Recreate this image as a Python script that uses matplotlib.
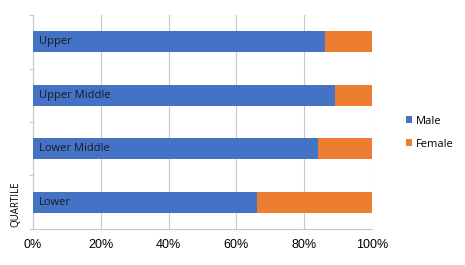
import matplotlib
matplotlib.use('Agg')
import matplotlib.pyplot as plt
import numpy as np
from matplotlib.ticker import FuncFormatter

quartiles = ['Lower', 'Lower Middle', 'Upper Middle', 'Upper']
male = [66, 84, 89, 86]
female = [34, 16, 11, 14]
xticks = [0, 20, 40, 60, 80, 100]

blue = '#4472c4'
orange = '#ed7d31'
grid_col = '#c8c8c8'

fig = plt.figure(figsize=(4.65, 2.65), dpi=100)
ax = fig.add_axes([0.071, 0.136, 0.729, 0.807])

y = np.arange(len(quartiles))
b1 = ax.barh(y, male, height=0.39, color=blue, label='Male', zorder=3)
b2 = ax.barh(y, female, left=male, height=0.39, color=orange, label='Female', zorder=3)

for yi, name in zip(y, quartiles):
    ax.text(1.8, yi, name, va='center', ha='left', fontsize=8,
            family='Open Sans', color='#1a1a2a', zorder=4)

ax.set_xlim(0, 100)
ax.set_ylim(-0.5, len(quartiles) - 0.5)
ax.set_xticks(xticks)
ax.xaxis.set_major_formatter(FuncFormatter(lambda v, p: '%d%%' % v))
ax.tick_params(axis='x', length=0, labelsize=9, pad=7)
for lab in ax.get_xticklabels():
    lab.set_family('Liberation Sans')
ax.set_yticks(np.arange(len(quartiles) + 1) - 0.5)
ax.set_yticklabels([])
ax.tick_params(axis='y', length=3, color=grid_col, width=0.8)
ax.grid(axis='x', color=grid_col, linewidth=0.8, zorder=0)

for s in ['top', 'right']:
    ax.spines[s].set_visible(False)
for s in ['left', 'bottom']:
    ax.spines[s].set_color(grid_col)
    ax.spines[s].set_linewidth(0.8)

fig.text(0.034, 0.145, 'QUARTILE', rotation=90, fontsize=7, ha='center', va='bottom',
         family='Open Sans')

ax.legend([b1, b2], ['Male', 'Female'], loc='center left', bbox_to_anchor=(1.07, 0.45),
          frameon=False, handlelength=0.6, handleheight=0.6,
          handletextpad=0.3, labelspacing=1.1, prop={'family': 'Open Sans', 'size': 8})

fig.savefig('out.png', dpi=100)
